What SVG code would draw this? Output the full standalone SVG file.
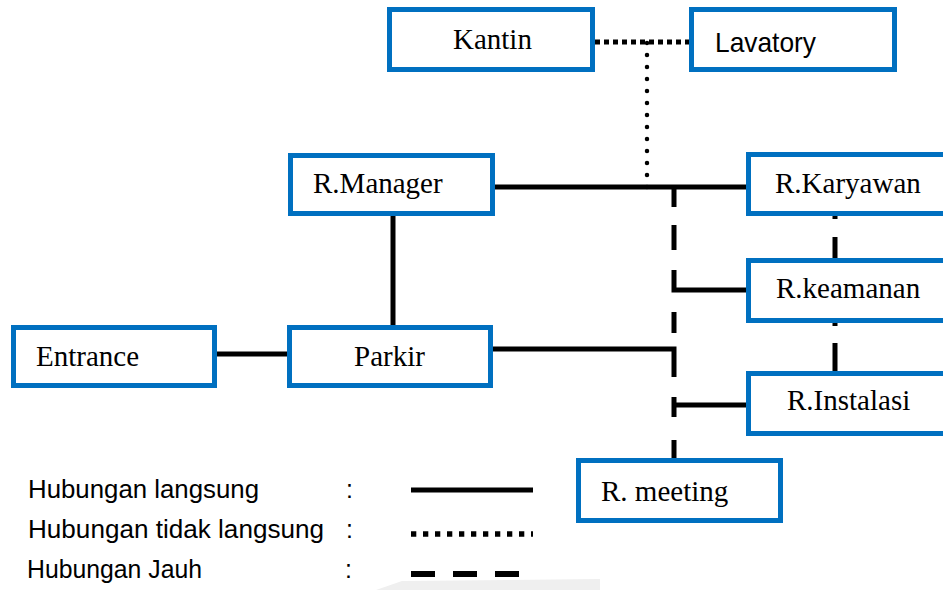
<svg xmlns="http://www.w3.org/2000/svg" width="943" height="590" viewBox="0 0 943 590">
<style>
.box{fill:#fff;stroke:#0070C0;stroke-width:5}
.lbl{font-family:"Liberation Serif","Times New Roman",serif;font-size:29px;fill:#000}
.sans{font-family:"Liberation Sans",Arial,sans-serif;fill:#000}
.solid{fill:none;stroke:#000;stroke-width:5}
.sq{fill:none;stroke:#000;stroke-width:5;stroke-dasharray:5 4}
.rd{fill:none;stroke:#000;stroke-width:4.5;stroke-linecap:round;stroke-dasharray:0 12}
</style>
<rect width="943" height="590" fill="#fff"/>
<path d="M376 590 L402 581 L600 579 L600 590 Z" fill="#efefef"/>
<g id="connectors">
<path class="sq" d="M595 42 H690"/>
<path class="rd" d="M647 43 V188"/>
<path class="solid" d="M495 187 H746"/>
<path class="solid" d="M393 216 V325"/>
<path class="solid" d="M217 354 H287"/>
<path class="solid" d="M493 349 H674 V377"/>
<path class="solid" d="M674 270 V290 H746"/>
<path class="solid" d="M674 405 H746"/>
<path class="solid" d="M674 187 V207 M674 225 V250 M674 312 V333 M674 397 V417 M674 440 V458"/>
<path class="solid" d="M835 216 V219 M835 237 V258 M835 323 V326 M835 343 V371"/>
</g>
<g id="kantin"><rect class="box" x="389.5" y="9.5" width="203" height="60"/><text class="lbl" x="453" y="49">Kantin</text></g>
<g id="lavatory"><rect class="box" x="691.5" y="9.5" width="203" height="60"/><text class="sans" x="715" y="52" font-size="28" textLength="101" lengthAdjust="spacingAndGlyphs">Lavatory</text></g>
<g id="r-manager"><rect class="box" x="290.5" y="155.5" width="202" height="58"/><text class="lbl" x="313" y="193">R.Manager</text></g>
<g id="r-karyawan"><rect class="box" x="748.5" y="154.5" width="220" height="59"/><text class="lbl" x="775" y="193">R.Karyawan</text></g>
<g id="r-keamanan"><rect class="box" x="748.5" y="260.5" width="220" height="60"/><text class="lbl" x="776" y="298">R.keamanan</text></g>
<g id="r-instalasi"><rect class="box" x="748.5" y="373.5" width="220" height="60"/><text class="lbl" x="787" y="410">R.Instalasi</text></g>
<g id="entrance"><rect class="box" x="13.5" y="327.5" width="201" height="58"/><text class="lbl" x="36" y="366">Entrance</text></g>
<g id="parkir"><rect class="box" x="289.5" y="327.5" width="201" height="58"/><text class="lbl" x="354" y="366">Parkir</text></g>
<g id="r-meeting"><rect class="box" x="578.5" y="460.5" width="202" height="60"/><text class="lbl" x="601" y="501">R. meeting</text></g>
<g id="legend">
<text class="sans" x="28" y="498" font-size="25" textLength="231" lengthAdjust="spacingAndGlyphs">Hubungan langsung</text>
<text class="sans" x="28" y="538" font-size="25" textLength="296" lengthAdjust="spacingAndGlyphs">Hubungan tidak langsung</text>
<text class="sans" x="27" y="578" font-size="25" textLength="175" lengthAdjust="spacingAndGlyphs">Hubungan Jauh</text>
<text class="sans" x="346" y="498" font-size="25">:</text>
<text class="sans" x="346" y="538" font-size="25">:</text>
<text class="sans" x="345" y="578" font-size="25">:</text>
<path d="M411 490 H533" stroke="#000" stroke-width="5"/>
<path d="M411 534 H533" stroke="#000" stroke-width="5.3" stroke-dasharray="5.3 6.7"/>
<path d="M411 574 H519" stroke="#000" stroke-width="6" stroke-dasharray="24 18"/>
</g>
</svg>
